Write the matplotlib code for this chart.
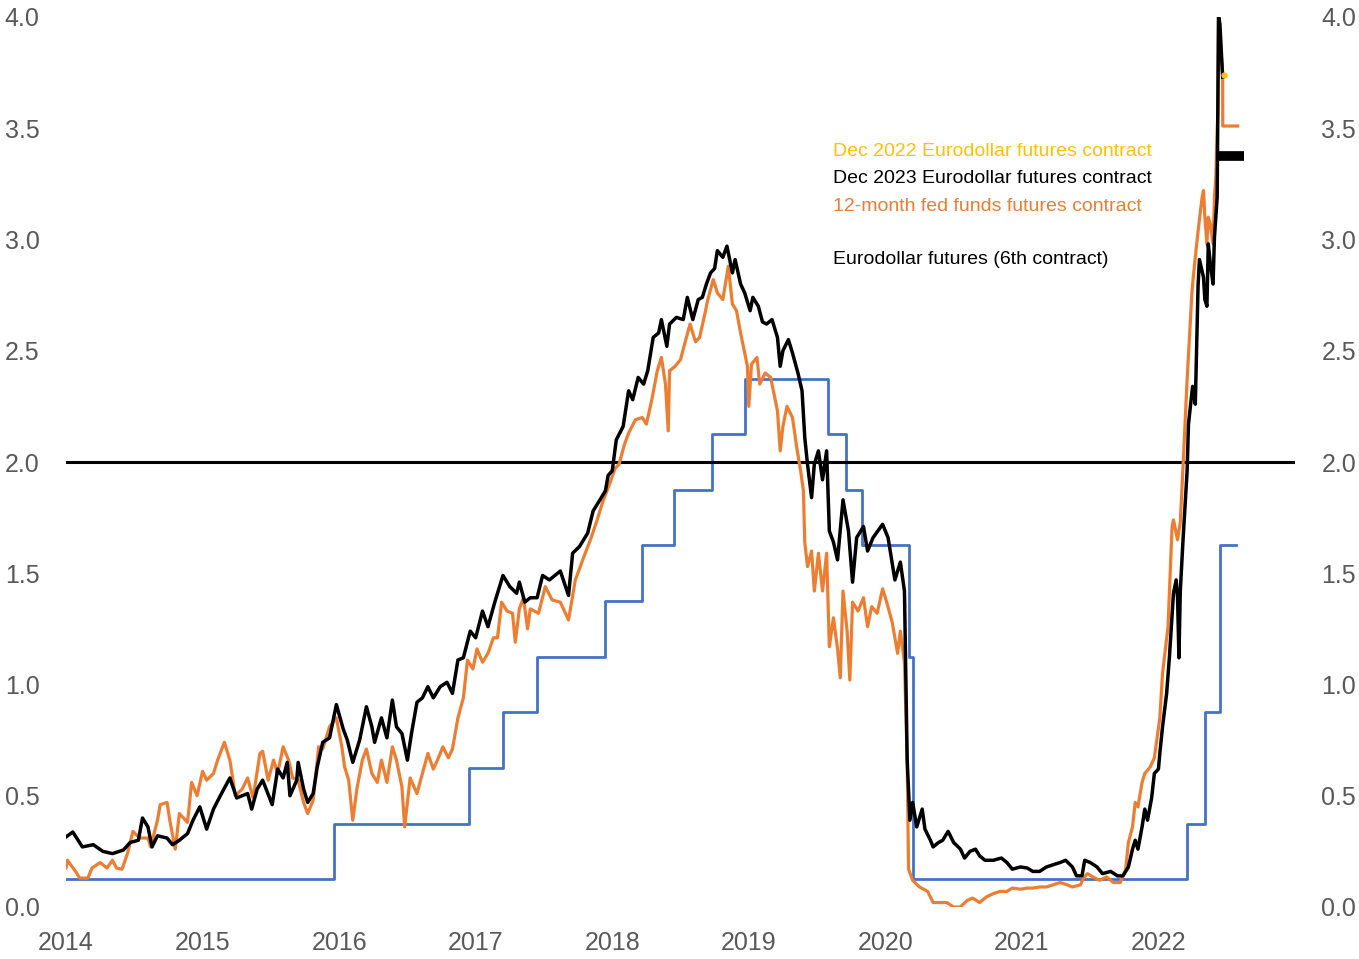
import matplotlib
matplotlib.use("Agg")
import matplotlib.pyplot as plt

plt.rcParams['font.family'] = ['Liberation Sans', 'DejaVu Sans']

# fed funds target range midpoint (step)
fed_x = [2014.0, 2015.96, 2016.95, 2017.20, 2017.45, 2017.95, 2018.22, 2018.45, 2018.73,
         2018.97, 2019.58, 2019.71, 2019.83, 2020.17, 2020.20, 2022.21, 2022.34, 2022.45, 2022.57]
fed_y = [0.125, 0.375, 0.625, 0.875, 1.125, 1.375, 1.625, 1.875, 2.125,
         2.375, 2.125, 1.875, 1.625, 1.125, 0.125, 0.375, 0.875, 1.625, 1.625]

# Eurodollar futures (6th contract)
ed_x = [2014.00, 2014.05, 2014.12, 2014.20, 2014.27, 2014.34, 2014.42, 2014.47, 2014.53, 2014.56,
        2014.60, 2014.63, 2014.67, 2014.74, 2014.78, 2014.83, 2014.89, 2014.93, 2014.98, 2015.03,
        2015.08, 2015.13, 2015.20, 2015.25, 2015.33, 2015.36, 2015.40, 2015.44, 2015.51, 2015.55,
        2015.59, 2015.62, 2015.64, 2015.69, 2015.70, 2015.74, 2015.77, 2015.81, 2015.84, 2015.88,
        2015.93, 2015.98, 2016.03, 2016.06, 2016.10, 2016.15, 2016.20, 2016.24, 2016.26, 2016.31,
        2016.35, 2016.39, 2016.42, 2016.46, 2016.50, 2016.53, 2016.57, 2016.61, 2016.65, 2016.69,
        2016.74, 2016.79, 2016.83, 2016.87, 2016.91, 2016.96, 2017.00, 2017.05, 2017.09, 2017.14,
        2017.16, 2017.20, 2017.25, 2017.30, 2017.32, 2017.36, 2017.40, 2017.45, 2017.49, 2017.54,
        2017.62, 2017.68, 2017.71, 2017.76, 2017.82, 2017.86, 2017.90, 2017.95, 2017.97, 2018.00,
        2018.03, 2018.08, 2018.12, 2018.15, 2018.19, 2018.23, 2018.26, 2018.30, 2018.34, 2018.36,
        2018.40, 2018.42, 2018.47, 2018.52, 2018.55, 2018.59, 2018.63, 2018.66, 2018.69, 2018.72,
        2018.75, 2018.77, 2018.81, 2018.84, 2018.88, 2018.90, 2018.94, 2018.97, 2019.01, 2019.03,
        2019.07, 2019.10, 2019.13, 2019.17, 2019.21, 2019.23, 2019.25, 2019.29, 2019.32, 2019.36,
        2019.39, 2019.41, 2019.43, 2019.46, 2019.48, 2019.51, 2019.54, 2019.57, 2019.59, 2019.62,
        2019.65, 2019.69, 2019.73, 2019.76, 2019.79, 2019.84, 2019.87, 2019.91, 2019.98, 2020.02,
        2020.07, 2020.11, 2020.14, 2020.16, 2020.18, 2020.20, 2020.23, 2020.27, 2020.29, 2020.33,
        2020.35, 2020.39, 2020.42, 2020.46, 2020.50, 2020.55, 2020.58, 2020.62, 2020.66, 2020.69,
        2020.73, 2020.79, 2020.85, 2020.89, 2020.93, 2020.99, 2021.04, 2021.08, 2021.13, 2021.18,
        2021.23, 2021.28, 2021.32, 2021.37, 2021.40, 2021.44, 2021.46, 2021.50, 2021.55, 2021.59,
        2021.65, 2021.70, 2021.74, 2021.78, 2021.81, 2021.83, 2021.85, 2021.88, 2021.90, 2021.92,
        2021.95, 2021.97, 2022.00, 2022.01, 2022.03, 2022.06, 2022.08, 2022.11, 2022.13, 2022.14,
        2022.15, 2022.16, 2022.18, 2022.21, 2022.22, 2022.25, 2022.27, 2022.28, 2022.29, 2022.30,
        2022.33, 2022.34, 2022.355, 2022.365, 2022.38, 2022.40, 2022.41, 2022.43, 2022.435, 2022.44,
        2022.45, 2022.46, 2022.47]
ed_y = [0.315, 0.337, 0.27, 0.28, 0.25, 0.24, 0.256, 0.29, 0.30, 0.40,
        0.36, 0.27, 0.32, 0.31, 0.28, 0.30, 0.33, 0.39, 0.45, 0.35,
        0.44, 0.50, 0.58, 0.49, 0.51, 0.44, 0.53, 0.57, 0.46, 0.62,
        0.58, 0.65, 0.50, 0.57, 0.65, 0.53, 0.47, 0.51, 0.63, 0.74,
        0.76, 0.91, 0.80, 0.75, 0.65, 0.75, 0.90, 0.81, 0.74, 0.85,
        0.76, 0.93, 0.81, 0.78, 0.66, 0.78, 0.92, 0.94, 0.99, 0.94,
        0.99, 1.01, 0.96, 1.11, 1.12, 1.24, 1.21, 1.33, 1.26, 1.37,
        1.41, 1.49, 1.44, 1.41, 1.46, 1.37, 1.39, 1.39, 1.49, 1.47,
        1.51, 1.40, 1.59, 1.62, 1.68, 1.78, 1.82, 1.87, 1.94, 1.96,
        2.10, 2.16, 2.32, 2.28, 2.38, 2.35, 2.41, 2.56, 2.58, 2.64,
        2.52, 2.62, 2.65, 2.64, 2.74, 2.64, 2.73, 2.74, 2.80, 2.85,
        2.87, 2.95, 2.92, 2.97, 2.85, 2.91, 2.80, 2.76, 2.68, 2.74,
        2.70, 2.63, 2.62, 2.64, 2.56, 2.43, 2.50, 2.55, 2.49, 2.40,
        2.32, 2.11, 1.99, 1.84, 1.99, 2.05, 1.92, 2.05, 1.69, 1.64,
        1.56, 1.83, 1.69, 1.46, 1.66, 1.71, 1.60, 1.66, 1.72, 1.66,
        1.47, 1.55, 1.42, 0.66, 0.39, 0.47, 0.36, 0.44, 0.35, 0.30,
        0.27, 0.29, 0.30, 0.34, 0.29, 0.26, 0.22, 0.25, 0.26, 0.23,
        0.21, 0.21, 0.22, 0.20, 0.17, 0.18, 0.175, 0.16, 0.16, 0.18,
        0.19, 0.20, 0.21, 0.18, 0.14, 0.14, 0.21, 0.20, 0.18, 0.15,
        0.16, 0.14, 0.14, 0.18, 0.26, 0.30, 0.26, 0.36, 0.44, 0.39,
        0.49, 0.60, 0.62, 0.69, 0.81, 0.96, 1.12, 1.41, 1.47, 1.39,
        1.12, 1.42, 1.65, 1.96, 2.17, 2.34, 2.26, 2.53, 2.79, 2.91,
        2.83, 2.73, 2.70, 2.98, 2.89, 2.80, 3.01, 3.19, 3.58, 4.00,
        3.97, 3.85, 3.73]

# 12-month fed funds futures contract
ff_x = [2014.00, 2014.01, 2014.07, 2014.10, 2014.16, 2014.19, 2014.25, 2014.30, 2014.34, 2014.37,
        2014.41, 2014.45, 2014.49, 2014.54, 2014.60, 2014.62, 2014.67, 2014.69, 2014.74, 2014.76,
        2014.80, 2014.83, 2014.89, 2014.92, 2014.96, 2015.00, 2015.03, 2015.08, 2015.11, 2015.16,
        2015.20, 2015.24, 2015.29, 2015.33, 2015.37, 2015.42, 2015.44, 2015.48, 2015.52, 2015.55,
        2015.59, 2015.63, 2015.66, 2015.70, 2015.74, 2015.77, 2015.81, 2015.85, 2015.88, 2015.93,
        2015.98, 2016.02, 2016.04, 2016.07, 2016.10, 2016.13, 2016.17, 2016.20, 2016.24, 2016.28,
        2016.31, 2016.35, 2016.39, 2016.42, 2016.46, 2016.48, 2016.52, 2016.57, 2016.61, 2016.65,
        2016.69, 2016.72, 2016.76, 2016.80, 2016.83, 2016.87, 2016.91, 2016.94, 2016.98, 2017.01,
        2017.05, 2017.09, 2017.13, 2017.16, 2017.19, 2017.23, 2017.27, 2017.29, 2017.32, 2017.35,
        2017.38, 2017.40, 2017.46, 2017.51, 2017.56, 2017.62, 2017.68, 2017.73, 2017.79, 2017.84,
        2017.89, 2017.93, 2017.98, 2018.02, 2018.05, 2018.09, 2018.12, 2018.17, 2018.22, 2018.25,
        2018.29, 2018.33, 2018.36, 2018.39, 2018.41, 2018.42, 2018.46, 2018.50, 2018.53, 2018.57,
        2018.61, 2018.64, 2018.68, 2018.70, 2018.74, 2018.77, 2018.81, 2018.85, 2018.88, 2018.91,
        2018.94, 2018.96, 2018.99, 2019.00, 2019.02, 2019.06, 2019.08, 2019.12, 2019.16, 2019.18,
        2019.21, 2019.23, 2019.25, 2019.28, 2019.32, 2019.35, 2019.38, 2019.40, 2019.41, 2019.43,
        2019.46, 2019.48, 2019.51, 2019.54, 2019.57, 2019.59, 2019.62, 2019.65, 2019.67, 2019.69,
        2019.72, 2019.74, 2019.76, 2019.80, 2019.84, 2019.87, 2019.90, 2019.94, 2019.98, 2020.01,
        2020.05, 2020.09, 2020.11, 2020.14, 2020.16, 2020.17, 2020.20, 2020.25, 2020.31, 2020.35,
        2020.40, 2020.45, 2020.50, 2020.55, 2020.60, 2020.64, 2020.69, 2020.74, 2020.79, 2020.84,
        2020.89, 2020.93, 2020.99, 2021.04, 2021.08, 2021.13, 2021.18, 2021.23, 2021.28, 2021.33,
        2021.37, 2021.43, 2021.45, 2021.48, 2021.52, 2021.57, 2021.62, 2021.67, 2021.72, 2021.76,
        2021.78, 2021.81, 2021.83, 2021.85, 2021.88, 2021.90, 2021.94, 2021.97, 2022.01, 2022.03,
        2022.07, 2022.10, 2022.11, 2022.14, 2022.16, 2022.18, 2022.21, 2022.23, 2022.245, 2022.255,
        2022.28, 2022.30, 2022.32, 2022.33, 2022.34, 2022.355, 2022.365, 2022.38, 2022.40, 2022.41,
        2022.42, 2022.435, 2022.44, 2022.47, 2022.471, 2022.58]
ff_y = [0.175, 0.21, 0.16, 0.13, 0.13, 0.175, 0.20, 0.175, 0.21, 0.175,
        0.17, 0.24, 0.34, 0.31, 0.31, 0.27, 0.39, 0.46, 0.47, 0.39,
        0.26, 0.42, 0.38, 0.56, 0.50, 0.61, 0.57, 0.60, 0.66, 0.74,
        0.66, 0.50, 0.53, 0.58, 0.49, 0.69, 0.70, 0.57, 0.66, 0.60,
        0.72, 0.66, 0.58, 0.57, 0.47, 0.42, 0.48, 0.72, 0.71, 0.81,
        0.85, 0.72, 0.63, 0.57, 0.39, 0.53, 0.66, 0.71, 0.60, 0.56,
        0.66, 0.56, 0.72, 0.66, 0.54, 0.36, 0.58, 0.51, 0.60, 0.69,
        0.62, 0.66, 0.72, 0.67, 0.71, 0.85, 0.94, 1.11, 1.07, 1.16,
        1.10, 1.14, 1.21, 1.21, 1.37, 1.33, 1.32, 1.19, 1.34, 1.39,
        1.25, 1.34, 1.32, 1.44, 1.38, 1.37, 1.29, 1.47, 1.57, 1.65,
        1.74, 1.82, 1.90, 1.97, 1.99, 2.08, 2.13, 2.19, 2.20, 2.17,
        2.28, 2.41, 2.47, 2.35, 2.14, 2.41, 2.43, 2.46, 2.53, 2.62,
        2.54, 2.56, 2.67, 2.73, 2.82, 2.76, 2.73, 2.88, 2.71, 2.68,
        2.58, 2.52, 2.43, 2.25, 2.44, 2.47, 2.35, 2.40, 2.38, 2.32,
        2.23, 2.05, 2.16, 2.25, 2.20, 2.07, 1.96, 1.87, 1.64, 1.53,
        1.60, 1.42, 1.59, 1.42, 1.59, 1.17, 1.30, 1.16, 1.03, 1.42,
        1.24, 1.02, 1.37, 1.33, 1.39, 1.26, 1.35, 1.32, 1.43, 1.37,
        1.28, 1.14, 1.24, 1.10, 0.66, 0.17, 0.12, 0.09, 0.07, 0.02,
        0.02, 0.02, 0.00, 0.00, 0.03, 0.04, 0.02, 0.045, 0.06, 0.07,
        0.07, 0.085, 0.08, 0.085, 0.085, 0.09, 0.09, 0.10, 0.11, 0.10,
        0.09, 0.10, 0.13, 0.15, 0.135, 0.12, 0.135, 0.11, 0.11, 0.17,
        0.29, 0.36, 0.47, 0.45, 0.56, 0.60, 0.63, 0.67, 0.85, 1.05,
        1.26, 1.71, 1.74, 1.65, 1.73, 1.98, 2.37, 2.59, 2.76, 2.83,
        2.98, 3.09, 3.19, 3.22, 3.10, 2.98, 3.10, 3.07, 2.98, 3.19,
        3.28, 3.58, 4.00, 3.75, 3.51, 3.51]

# Dec 2022 / Dec 2023 Eurodollar contracts (latest readings)
dec22_x = [2022.48]
dec22_y = [3.74]
dec23_x = [2022.43, 2022.63]
dec23_y = [3.375, 3.375]

labels = ["Dec 2022 Eurodollar futures contract", "Dec 2023 Eurodollar futures contract",
          "12-month fed funds futures contract", "Eurodollar futures (6th contract)"]
label_colors = ["#FFC000", "#000000", "#ED7D31", "#000000"]
label_pos = [0.849, 0.819, 0.787, 0.727]

yticks = [0.0, 0.5, 1.0, 1.5, 2.0, 2.5, 3.0, 3.5, 4.0]
xticks = [2014, 2015, 2016, 2017, 2018, 2019, 2020, 2021, 2022]

fig = plt.figure(figsize=(13.59, 9.59), dpi=100)
ax = fig.add_axes([66 / 1359, 52 / 959, 1229 / 1359, 890 / 959])

ax.step(fed_x, fed_y, where='post', color='#4472C4', lw=2.0)
ax.axhline(2.0, color='black', lw=2.2)
ax.plot(ff_x, ff_y, color='#ED7D31', lw=2.3)
ax.plot(ed_x, ed_y, color='black', lw=2.5)
ax.plot(dec23_x, dec23_y, color='black', lw=7, solid_capstyle='butt')
ax.plot(dec22_x, dec22_y, 'o', color='#FFC000', ms=3.5)

for t, c, yy in zip(labels, label_colors, label_pos):
    ax.text(0.624, yy, t, color=c, fontsize=14, transform=ax.transAxes, va='center', ha='left')

ax.set_xlim(2014, 2023)
ax.set_ylim(0, 4)
ax.set_xticks(xticks)
ax.set_xticklabels([str(x) for x in xticks])
ax.set_yticks(yticks)
ax.set_yticklabels(['%.1f' % v for v in yticks])
ax.tick_params(axis='both', length=0, labelsize=18, colors='#595959')
ax.tick_params(axis='y', pad=19, labelright=True)
ax.tick_params(axis='x', pad=17)
for s in ax.spines.values():
    s.set_visible(False)

plt.savefig('out.png', dpi=100)
